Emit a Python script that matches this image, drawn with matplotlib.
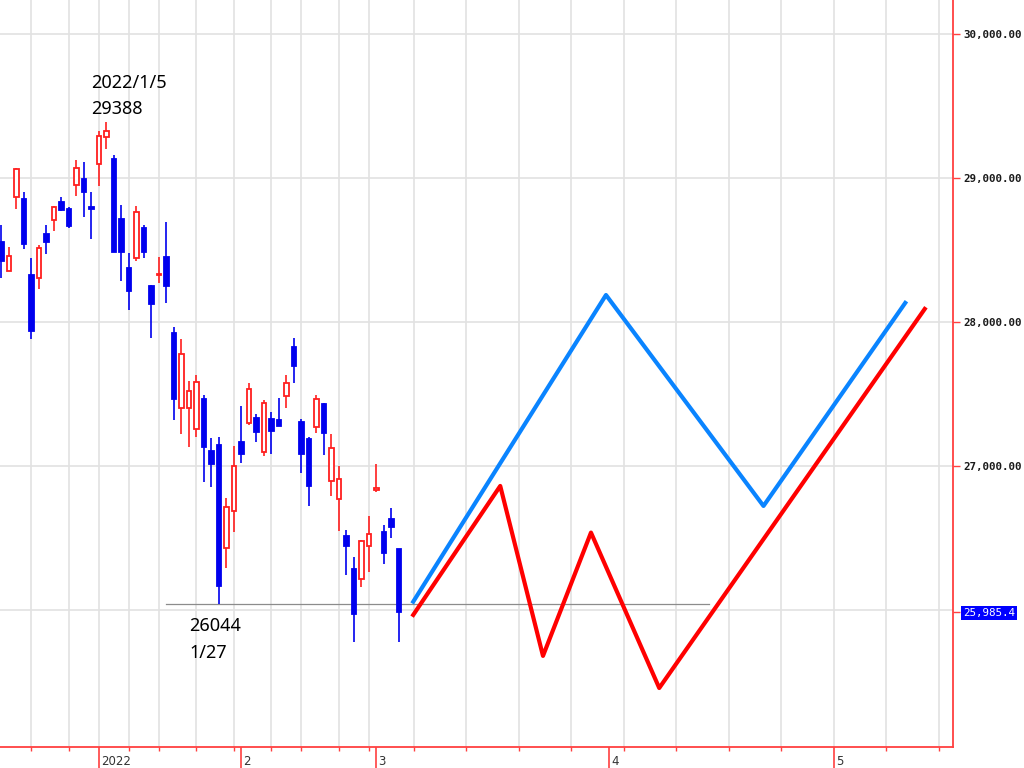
import matplotlib.pyplot as plt

# daily candles, slot 0 = 2022/1/4 (first trading day), one slot per trading day
first_slot = -13
opens = [28557, 28355, 28869, 28855, 28327, 28307, 28612, 28710, 28835, 28786,
         28953, 28994, 28800, 29099, 29286, 29133, 28717, 28376, 28446, 28654,
         28251, 28330, 28452, 27924, 27403, 27403, 27257, 27466, 27104, 27146,
         26430, 26687, 27167, 27299, 27334, 27097, 27327, 27320, 27487, 27827,
         27306, 27188, 27271, 27431, 26896, 26771, 26514, 26284, 26215, 26444,
         26833, 26541, 26632, 26423]
highs = [28675, 28522, 29071, 28904, 28446, 28536, 28675, 28807, 28869, 28800,
         29127, 29113, 28904, 29328, 29388, 29161, 28814, 28480, 28807, 28675,
         28258, 28452, 28696, 27966, 27883, 27591, 27632, 27494, 27195, 27202,
         26778, 27139, 27417, 27577, 27362, 27459, 27376, 27473, 27632, 27890,
         27327, 27202, 27494, 27438, 27222, 27000, 26555, 26368, 26486, 26653,
         27014, 26590, 26708, 26423]
lows = [28307, 28355, 28786, 28508, 27883, 28230, 28473, 28633, 28772, 28654,
        28876, 28730, 28578, 28946, 29203, 28487, 28286, 28084, 28425, 28446,
        27890, 28272, 28133, 27320, 27222, 27132, 27202, 26889, 26854, 26044,
        26291, 26541, 27021, 27285, 27167, 27069, 27084, 27278, 27403, 27577,
        26951, 26722, 27229, 27077, 26792, 26548, 26243, 25777, 26159, 26264,
        26819, 26319, 26500, 25777]
closes = [28425, 28459, 29064, 28543, 27938, 28515, 28557, 28800, 28779, 28668,
          29071, 28904, 28786, 29293, 29328, 28487, 28487, 28216, 28765, 28487,
          28126, 28334, 28251, 27466, 27778, 27521, 27584, 27132, 27014, 26166,
          26715, 27000, 27084, 27535, 27236, 27438, 27243, 27278, 27577, 27695,
          27084, 26861, 27466, 27229, 27125, 26910, 26444, 25972, 26479, 26528,
          26847, 26396, 26576, 25985.4]
last_price = 25985.4

# scenario lines, x = calendar days after the last candle (3/4)
blue_days = [1.9, 27.6, 48.6, 67.5]
blue_prices = [26057, 28188, 26722, 28133]
red_days = [1.9, 13.5, 19.2, 25.6, 34.7, 70.1]
red_prices = [25965, 26861, 25680, 26537, 25457, 28091]

support_price = 26044
support_from, support_to = 9, 81.3

week_lines = [-9, -4, 0, 4, 8, 13, 18, 23, 27, 32, 36,
              42, 49, 56, 63, 70, 77, 84, 91, 98, 105, 112]
month_pos = [0, 19, 37, 68, 98]
month_labels = ['2022', '2', '3', '4', '5']
price_levels = [26000, 27000, 28000, 29000, 30000]

RED = '#ff1f1f'
BLUE = '#0000ee'
AXIS_RED = '#ff4040'
GRID = '#e2e2e2'

fig = plt.figure(figsize=(10.24, 7.68), dpi=100)
ax = fig.add_axes([0, 21 / 768, 953 / 1024, 747 / 768])
ax.set_xlim(-13.2, 113.87)
ax.set_ylim(25047, 30238)

for wx in week_lines:
    ax.axvline(wx, color=GRID, lw=1.2, zorder=0)
for py in price_levels:
    ax.axhline(py, color=GRID, lw=1.2, zorder=0)

xs = list(range(first_slot, first_slot + len(opens)))
for xi, o, h, l, c in zip(xs, opens, highs, lows, closes):
    up = c >= o
    col = RED if up else BLUE
    ax.vlines(xi, l, h, color=col, lw=1.2, zorder=2)
    ax.bar(xi, c - o, bottom=o, width=0.66, facecolor='white' if up else BLUE,
           edgecolor=col, lw=1.3, zorder=3)

last_x = xs[-1]
ax.plot([support_from, support_to], [support_price, support_price], color='#8c8c8c', lw=0.9, zorder=1)
ax.plot([last_x + d for d in blue_days], blue_prices, color='#0a84ff', lw=3, zorder=4)
ax.plot([last_x + d for d in red_days], red_prices, color='#ff0000', lw=3, zorder=4)

# annotations
hi_slot = 1
ax.text(hi_slot - 2.1, 29627, '2022/1/5', fontsize=13, family='Noto Sans', va='baseline')
ax.text(hi_slot - 2.1, 29446, '29388', fontsize=13, family='Noto Sans', va='baseline')
lo_slot = 16
ax.text(lo_slot - 4.0, 25853, '26044', fontsize=13, family='Noto Sans', va='baseline')
ax.text(lo_slot - 4.0, 25666, '1/27', fontsize=13, family='Noto Sans', va='baseline')

# spines
for s in ['left', 'top']:
    ax.spines[s].set_visible(False)
for s in ['right', 'bottom']:
    ax.spines[s].set_color(AXIS_RED)
    ax.spines[s].set_linewidth(1.3)

# right price axis
ax.yaxis.tick_right()
yt = [last_price, 27000, 28000, 29000, 30000]
ax.set_yticks(yt)
ax.set_yticklabels(['25,985.4'] + [f'{v:,.2f}' for v in yt[1:]])
ax.tick_params(axis='y', colors=AXIS_RED, length=5, width=1, pad=2.5)
for lab in ax.get_yticklabels():
    lab.set_family('DejaVu Sans Mono')
    lab.set_fontsize(7.8)
    lab.set_weight('bold')
    lab.set_color('#1a1a1a')
ax.get_yticklabels()[0].set_color('white')
ax.get_yticklabels()[0].set_weight('normal')
ax.get_yticklabels()[0].set_bbox(dict(facecolor='#0000ff', edgecolor='none', pad=1.5))

# bottom time axis
ax.set_xticks(month_pos)
ax.set_xticklabels([''] * len(month_pos))
ax.set_xticks(week_lines, minor=True)
ax.tick_params(axis='x', which='major', colors=AXIS_RED, length=16, width=1.2)
ax.tick_params(axis='x', which='minor', colors=AXIS_RED, length=3, width=1)
for mx, ml in zip(month_pos, month_labels):
    ax.annotate(ml, xy=(mx, 0), xycoords=('data', 'axes fraction'), xytext=(1.5, -6),
                textcoords='offset points', ha='left', va='top', fontsize=8.5, color='#333333',
                annotation_clip=False)

fig.savefig('out.png', dpi=100)
